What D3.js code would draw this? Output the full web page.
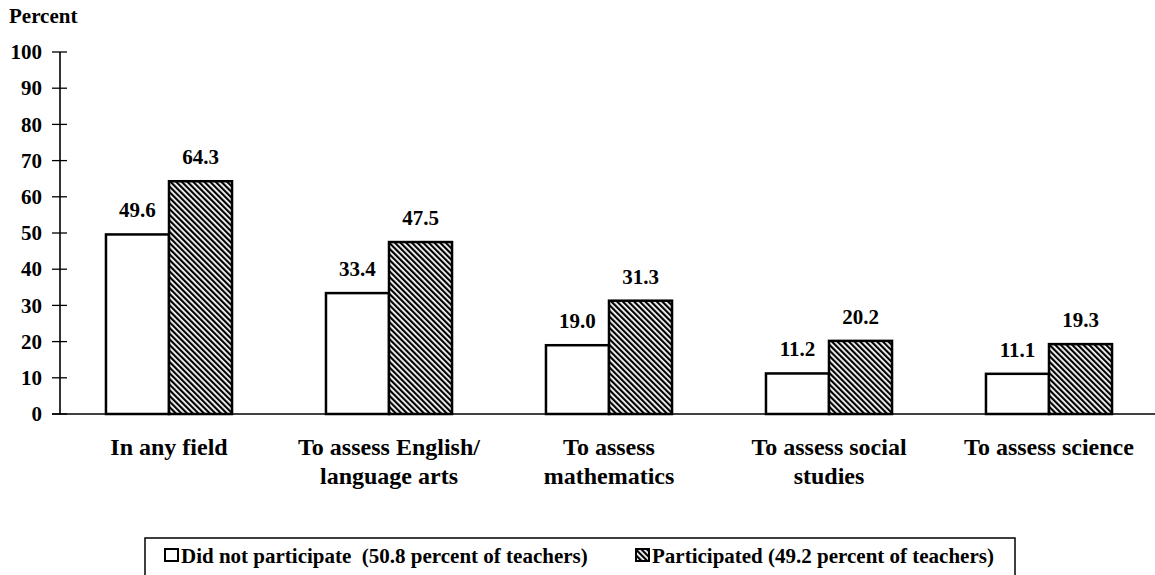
<!DOCTYPE html>
<html>
<head>
<meta charset="utf-8">
<script src="https://cdn.jsdelivr.net/npm/d3@7"></script>
<style>
  body { margin: 0; background: #fff; overflow: hidden; }
  svg text { font-family: "Liberation Serif", "Times New Roman", Times, "DejaVu Serif", serif; font-weight: bold; fill: #000; }
</style>
</head>
<body>
<div id="chart"></div>
<script>
var categories = [['In any field'], ['To assess English/', 'language arts'], ['To assess', 'mathematics'],
                  ['To assess social', 'studies'], ['To assess science']]
var series = ['Did not participate', 'Participated']
var notParticipated = [49.6, 33.4, 19.0, 11.2, 11.1]
var participated = [64.3, 47.5, 31.3, 20.2, 19.3]
var yTicks = [0, 10, 20, 30, 40, 50, 60, 70, 80, 90, 100]
var legendLabels = ['Did not participate  (50.8 percent of teachers)', 'Participated (49.2 percent of teachers)']

var width = 1155
var height = 575
var font = '"Liberation Serif", "Times New Roman", Times, "DejaVu Serif", serif'

var svg = d3.select('#chart')
      .append('svg')
        .attr('width', width)
        .attr('height', height)
        .style('display', 'block')

// hatch for participated bars
var defs = svg.append('defs')
var pat = defs.append('pattern')
    .attr('id', 'hatch')
    .attr('patternUnits', 'userSpaceOnUse')
    .attr('width', 4)
    .attr('height', 4)
    .attr('patternTransform', 'rotate(-45)')
pat.append('rect').attr('width', 4).attr('height', 4).attr('fill', '#fff')
pat.append('rect').attr('width', 2.2).attr('height', 4).attr('fill', '#000')

var y = d3.scaleLinear().domain([0, 100]).range([414, 52])
var x0 = d3.scaleBand().domain(d3.range(categories.length)).range([59, 1159]).paddingInner(0.427).paddingOuter(0.2135)
var x1 = d3.scaleBand().domain([0, 1]).range([0, x0.bandwidth()])

// y axis
var yAxis = d3.axisLeft(y).tickValues(yTicks).tickSize(0).tickPadding(18)
var ga = svg.append('g').attr('transform', 'translate(60,0)').call(yAxis)
ga.select('.domain').remove()
ga.selectAll('text').attr('font-family', font).attr('font-weight', 'bold').style('font-size', '21px')
svg.append('line').attr('x1', 60).attr('x2', 60).attr('y1', y(100)).attr('y2', y(0))
    .attr('stroke', '#000').attr('stroke-width', 1.6)
svg.selectAll('.tk').data(yTicks).enter().append('line')
    .attr('x1', 52).attr('x2', 67)
    .attr('y1', function(d) { return y(d) }).attr('y2', function(d) { return y(d) })
    .attr('stroke', '#000').attr('stroke-width', 1.3)

svg.append('text').attr('x', 9).attr('y', 23).style('font-size', '21px').text('Percent')

// bars
var groups = svg.selectAll('.grp')
    .data(categories)
    .enter().append('g')
      .attr('transform', function(d, i) { return 'translate(' + x0(i) + ',0)' })

groups.each(function(d, i) {
  var g = d3.select(this)
  var vals = [notParticipated[i], participated[i]]
  vals.forEach(function(v, j) {
    g.append('rect')
      .attr('x', x1(j))
      .attr('y', y(v))
      .attr('width', x1.bandwidth())
      .attr('height', y(0) - y(v))
      .attr('fill', j == 0 ? '#fff' : 'url(#hatch)')
      .attr('stroke', '#000')
      .attr('stroke-width', 2.5)
    g.append('text')
      .attr('x', x1(j) + x1.bandwidth() / 2)
      .attr('y', y(v) - 17)
      .attr('text-anchor', 'middle')
      .style('font-size', '21px')
      .text(v.toFixed(1))
  })
})

// x axis line
svg.append('line').attr('x1', 52).attr('x2', 1155).attr('y1', y(0)).attr('y2', y(0))
    .attr('stroke', '#000').attr('stroke-width', 1.6)

// category labels
groups.each(function(d, i) {
  var t = d3.select(this).append('text')
    .attr('x', x0.bandwidth() / 2)
    .attr('y', 455)
    .attr('text-anchor', 'middle')
    .style('font-size', '24px')
  d.forEach(function(line, k) {
    t.append('tspan').attr('x', x0.bandwidth() / 2).attr('dy', k == 0 ? 0 : 29).text(line)
  })
})

// legend
var lg = svg.append('g')
lg.append('rect').attr('x', 145).attr('y', 538).attr('width', 870).attr('height', 40)
    .attr('fill', '#fff').attr('stroke', '#000').attr('stroke-width', 1.5)
var lx = [165, 636]
legendLabels.forEach(function(l, j) {
  lg.append('rect').attr('x', lx[j]).attr('y', 549).attr('width', 13).attr('height', 12)
    .attr('fill', j == 0 ? '#fff' : 'url(#hatch)').attr('stroke', '#000').attr('stroke-width', 2)
  lg.append('text').attr('x', lx[j] + 16).attr('y', 563).style('font-size', '21px').style('white-space', 'pre').text(l)
})
</script>
</body>
</html>
